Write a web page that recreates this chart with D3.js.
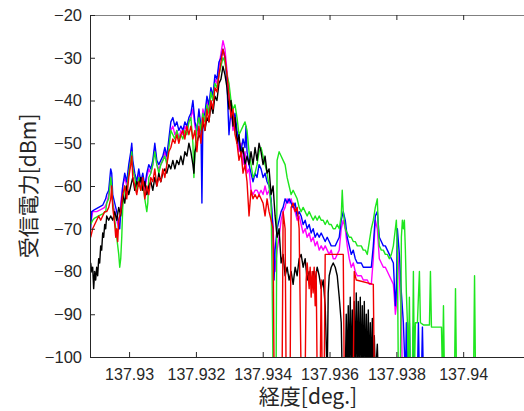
<!DOCTYPE html>
<html>
<head>
<meta charset="utf-8">
<script src="https://cdn.jsdelivr.net/npm/d3@7"></script>
<style>
  body { margin: 0; background: #fff; }
  svg { display: block; }
</style>
</head>
<body>
<svg id="chart" width="524" height="411"></svg>
<script>
// tick values and labels
const xTicks = [137.93, 137.932, 137.934, 137.936, 137.938, 137.94];
const xTickLabels = ['137.93', '137.932', '137.934', '137.936', '137.938', '137.94'];
const yTicks = [-100, -90, -80, -70, -60, -50, -40, -30, -20];

// [longitude, received power dBm]; -105 = below the axis
const black = [[137.92885,-78],[137.92888,-80],[137.92891,-79],[137.92894,-84],[137.92897,-80],[137.92900,-82],[137.92903,-79],[137.92906,-81],[137.92909,-77],[137.92912,-78],[137.92915,-74],[137.92918,-75],[137.92921,-71],[137.92924,-72],[137.92927,-69],[137.92930,-70],[137.92933,-67],[137.92939,-68],[137.92945,-67],[137.92951,-68],[137.92957,-66],[137.92963,-68],[137.92969,-65],[137.92975,-67],[137.92981,-62],[137.92987,-64],[137.92993,-60],[137.92999,-62],[137.93005,-60],[137.93011,-58],[137.93017,-61],[137.93023,-59],[137.93029,-60],[137.93035,-58],[137.93041,-61],[137.93047,-59],[137.93053,-62],[137.93059,-60],[137.93065,-59],[137.93071,-61],[137.93077,-58],[137.93083,-60],[137.93089,-57],[137.93095,-59],[137.93101,-57],[137.93107,-56],[137.93113,-57],[137.93119,-55],[137.93125,-56],[137.93131,-54],[137.93137,-56],[137.93143,-54],[137.93149,-55],[137.93155,-53],[137.93161,-55],[137.93167,-52],[137.93173,-53],[137.93179,-50],[137.93185,-52],[137.93191,-55],[137.93194,-57],[137.93197,-52],[137.93203,-50],[137.93209,-48],[137.93215,-49],[137.93221,-45],[137.93227,-47],[137.93233,-44],[137.93239,-45],[137.93245,-41],[137.93251,-43],[137.93257,-39],[137.93263,-40],[137.93269,-36],[137.93275,-35],[137.93281,-32],[137.93287,-34],[137.93293,-37],[137.93299,-42],[137.93305,-40],[137.93311,-46],[137.93317,-44],[137.93323,-50],[137.93329,-48],[137.93335,-53],[137.93341,-51],[137.93347,-55],[137.93353,-53],[137.93359,-55],[137.93365,-52],[137.93371,-55],[137.93377,-51],[137.93383,-54],[137.93389,-50],[137.93395,-52],[137.93401,-55],[137.93407,-53],[137.93413,-57],[137.93419,-56],[137.93425,-62],[137.93431,-60],[137.93437,-67],[137.93443,-72],[137.93449,-70],[137.93455,-78],[137.93461,-76],[137.93467,-81],[137.93473,-79],[137.93479,-82],[137.93485,-80],[137.93491,-83],[137.93497,-79],[137.93503,-81],[137.93509,-77],[137.93515,-76],[137.93521,-79],[137.93527,-77],[137.93533,-82],[137.93539,-80],[137.93545,-83],[137.93551,-80],[137.93557,-82],[137.93563,-79],[137.93569,-81],[137.93575,-84],[137.93581,-82],[137.93587,-88],[137.93593,-105],[137.93596,-85],[137.93599,-81],[137.93605,-79],[137.93611,-78],[137.93617,-79],[137.93623,-81],[137.93629,-86],[137.93635,-92],[137.93638,-105],[137.93647,-105],[137.93650,-90],[137.93653,-105],[137.93656,-88],[137.93659,-105],[137.93662,-86],[137.93665,-105],[137.93668,-89],[137.93671,-105],[137.93674,-87],[137.93677,-105],[137.93680,-85],[137.93683,-105],[137.93686,-87],[137.93689,-105],[137.93692,-86],[137.93695,-105],[137.93698,-88],[137.93701,-105],[137.93704,-87],[137.93707,-105],[137.93710,-90],[137.93713,-105],[137.93716,-89],[137.93719,-105],[137.93722,-92],[137.93725,-105],[137.93728,-91],[137.93731,-105],[137.93734,-95],[137.93737,-105],[137.93743,-97],[137.93746,-105]];

const red = [[137.92885,-72],[137.92891,-70],[137.92897,-69],[137.92903,-68],[137.92909,-67],[137.92915,-68],[137.92921,-67],[137.92927,-66],[137.92933,-66],[137.92939,-65],[137.92945,-63],[137.92948,-60],[137.92951,-65],[137.92957,-69],[137.92960,-72],[137.92963,-70],[137.92966,-73],[137.92969,-68],[137.92975,-66],[137.92981,-62],[137.92987,-60],[137.92993,-63],[137.92999,-58],[137.93005,-55],[137.93008,-53],[137.93011,-58],[137.93017,-60],[137.93023,-62],[137.93029,-59],[137.93035,-61],[137.93041,-58],[137.93047,-63],[137.93053,-60],[137.93059,-62],[137.93065,-58],[137.93071,-59],[137.93077,-56],[137.93083,-60],[137.93089,-58],[137.93095,-59],[137.93101,-56],[137.93107,-58],[137.93113,-55],[137.93119,-52],[137.93125,-51],[137.93131,-49],[137.93137,-50],[137.93143,-48],[137.93149,-50],[137.93155,-48],[137.93161,-47],[137.93167,-49],[137.93173,-46],[137.93179,-48],[137.93185,-46],[137.93191,-49],[137.93197,-47],[137.93203,-52],[137.93209,-46],[137.93215,-50],[137.93221,-44],[137.93227,-47],[137.93233,-42],[137.93239,-45],[137.93245,-40],[137.93251,-42],[137.93257,-37],[137.93263,-38],[137.93269,-34],[137.93275,-31],[137.93281,-28],[137.93287,-30],[137.93293,-34],[137.93299,-39],[137.93305,-44],[137.93311,-42],[137.93317,-48],[137.93323,-50],[137.93329,-54],[137.93335,-52],[137.93341,-57],[137.93347,-55],[137.93353,-59],[137.93359,-67],[137.93365,-61],[137.93371,-63],[137.93377,-62],[137.93383,-63],[137.93389,-62],[137.93395,-63],[137.93401,-64],[137.93407,-67],[137.93413,-63],[137.93419,-66],[137.93425,-68],[137.93431,-70],[137.93434,-105],[137.93458,-105],[137.93461,-66],[137.93467,-70],[137.93470,-105],[137.93482,-105],[137.93485,-65],[137.93491,-64],[137.93497,-66],[137.93503,-65],[137.93509,-70],[137.93515,-105],[137.93527,-105],[137.93530,-82],[137.93533,-78],[137.93539,-84],[137.93542,-79],[137.93545,-86],[137.93548,-80],[137.93551,-85],[137.93554,-79],[137.93557,-88],[137.93560,-80],[137.93563,-105],[137.93572,-105],[137.93575,-82],[137.93578,-105],[137.93584,-105],[137.93587,-76],[137.93641,-76],[137.93644,-105],[137.93671,-105],[137.93674,-80],[137.93680,-82],[137.93731,-83],[137.93734,-105]];

const magenta = [[137.92885,-69],[137.92891,-66],[137.92903,-66],[137.92915,-65.5],[137.92927,-65],[137.92933,-64],[137.92939,-62],[137.92945,-58],[137.92951,-64],[137.92957,-66],[137.92963,-68],[137.92969,-70],[137.92972,-68],[137.92975,-64],[137.92981,-60],[137.92987,-58],[137.92993,-60],[137.92999,-56],[137.93005,-53],[137.93008,-51],[137.93011,-56],[137.93017,-58],[137.93023,-60],[137.93029,-57],[137.93035,-60],[137.93041,-58],[137.93047,-61],[137.93053,-58],[137.93059,-56],[137.93065,-57],[137.93071,-55],[137.93077,-51],[137.93083,-55],[137.93089,-56],[137.93095,-55],[137.93101,-54],[137.93107,-52],[137.93113,-54],[137.93119,-50],[137.93125,-47],[137.93131,-46],[137.93137,-48],[137.93143,-47],[137.93149,-49],[137.93155,-47],[137.93161,-48],[137.93167,-46],[137.93173,-47],[137.93179,-45],[137.93185,-44],[137.93191,-42],[137.93197,-46],[137.93203,-48],[137.93209,-43],[137.93215,-47],[137.93221,-42],[137.93227,-44],[137.93233,-40],[137.93239,-42],[137.93245,-38],[137.93251,-40],[137.93257,-35],[137.93263,-36],[137.93269,-32],[137.93275,-29],[137.93281,-26],[137.93287,-28],[137.93293,-33],[137.93299,-38],[137.93305,-42],[137.93311,-47],[137.93317,-45],[137.93323,-48],[137.93329,-52],[137.93335,-50],[137.93341,-55],[137.93347,-52],[137.93353,-57],[137.93359,-56],[137.93365,-61],[137.93371,-62],[137.93377,-61],[137.93383,-61],[137.93389,-62],[137.93395,-61],[137.93401,-62],[137.93407,-60],[137.93413,-62],[137.93419,-61],[137.93425,-64],[137.93431,-70],[137.93437,-80],[137.93443,-75],[137.93449,-72],[137.93455,-68],[137.93461,-66],[137.93467,-65],[137.93473,-63],[137.93479,-64],[137.93485,-63],[137.93491,-65],[137.93497,-66],[137.93503,-68],[137.93509,-67],[137.93515,-69],[137.93521,-71],[137.93527,-70],[137.93533,-72],[137.93539,-71],[137.93545,-73],[137.93551,-72],[137.93557,-74],[137.93563,-73],[137.93569,-75],[137.93575,-74],[137.93581,-75],[137.93587,-74],[137.93593,-75],[137.93599,-76],[137.93605,-75],[137.93611,-77],[137.93617,-77],[137.93623,-76],[137.93629,-75],[137.93635,-70],[137.93641,-68],[137.93647,-70],[137.93653,-74],[137.93659,-77],[137.93665,-79],[137.93671,-78],[137.93677,-80],[137.93683,-81],[137.93689,-81],[137.93695,-81],[137.93701,-82],[137.93707,-82],[137.93713,-82],[137.93719,-83],[137.93725,-83],[137.93731,-77],[137.93737,-68],[137.93743,-70],[137.93749,-77],[137.93755,-78],[137.93761,-79],[137.93767,-79],[137.93773,-80],[137.93779,-81],[137.93785,-82],[137.93791,-83],[137.93794,-86],[137.93797,-90],[137.93800,-88],[137.93803,-74],[137.93809,-82],[137.93815,-90],[137.93818,-105]];

const blue = [[137.92885,-70],[137.92888,-66],[137.92897,-65.5],[137.92909,-65],[137.92921,-64.5],[137.92930,-63],[137.92933,-62],[137.92939,-61],[137.92945,-56],[137.92948,-57],[137.92951,-62],[137.92957,-64],[137.92963,-66],[137.92969,-69],[137.92972,-70],[137.92975,-66],[137.92981,-60],[137.92987,-57],[137.92993,-59],[137.92999,-55],[137.93005,-52],[137.93008,-50],[137.93011,-54],[137.93017,-57],[137.93023,-59],[137.93029,-56],[137.93035,-59],[137.93041,-57],[137.93047,-60],[137.93053,-57],[137.93059,-55],[137.93065,-56],[137.93071,-54],[137.93077,-50],[137.93083,-54],[137.93089,-55],[137.93095,-54],[137.93101,-53],[137.93107,-51],[137.93113,-53],[137.93119,-49],[137.93125,-45],[137.93131,-44],[137.93137,-46],[137.93143,-45],[137.93149,-47],[137.93155,-46],[137.93161,-47],[137.93167,-45],[137.93173,-46],[137.93179,-44],[137.93185,-43],[137.93191,-40],[137.93197,-45],[137.93203,-47],[137.93209,-42],[137.93215,-46],[137.93218,-64],[137.93221,-44],[137.93227,-43],[137.93233,-39],[137.93239,-41],[137.93245,-37],[137.93251,-39],[137.93257,-34],[137.93263,-35],[137.93269,-31],[137.93275,-30],[137.93281,-28],[137.93287,-30],[137.93293,-36],[137.93299,-48],[137.93305,-42],[137.93311,-45],[137.93317,-43],[137.93323,-47],[137.93329,-50],[137.93335,-52],[137.93341,-49],[137.93347,-51],[137.93350,-46],[137.93353,-52],[137.93359,-55],[137.93365,-57],[137.93371,-59],[137.93377,-57],[137.93383,-58],[137.93389,-55],[137.93395,-56],[137.93401,-58],[137.93407,-57],[137.93413,-59],[137.93419,-60],[137.93425,-63],[137.93431,-70],[137.93434,-82],[137.93437,-75],[137.93443,-70],[137.93449,-68],[137.93455,-66],[137.93461,-65],[137.93467,-63],[137.93473,-64],[137.93479,-63],[137.93485,-64],[137.93491,-65],[137.93497,-64],[137.93503,-67],[137.93509,-66],[137.93515,-67],[137.93521,-69],[137.93527,-68],[137.93533,-70],[137.93539,-69],[137.93545,-71],[137.93551,-70],[137.93557,-72],[137.93563,-71],[137.93569,-72],[137.93575,-71],[137.93581,-72],[137.93587,-73],[137.93593,-72],[137.93599,-73],[137.93605,-74],[137.93611,-74],[137.93617,-74],[137.93623,-73],[137.93629,-72],[137.93635,-68],[137.93641,-66],[137.93647,-68],[137.93653,-72],[137.93659,-74],[137.93665,-76],[137.93671,-75],[137.93677,-77],[137.93683,-78],[137.93689,-78],[137.93695,-78],[137.93701,-79],[137.93707,-79],[137.93713,-79],[137.93719,-79],[137.93725,-79],[137.93731,-74],[137.93737,-67],[137.93743,-66],[137.93749,-72],[137.93755,-73],[137.93761,-74],[137.93767,-74],[137.93773,-75],[137.93779,-76],[137.93785,-77],[137.93791,-78],[137.93794,-83],[137.93797,-88],[137.93800,-84],[137.93803,-70],[137.93809,-76],[137.93815,-85],[137.93821,-92],[137.93827,-105],[137.93830,-92],[137.93833,-105],[137.93839,-92],[137.93842,-105],[137.93848,-105],[137.93851,-93],[137.93854,-105],[137.93863,-105],[137.93866,-92],[137.93869,-105],[137.93875,-105],[137.93878,-93],[137.93881,-105]];

const green = [[137.92885,-69],[137.92891,-68],[137.92897,-67.5],[137.92909,-67],[137.92921,-66.5],[137.92930,-66],[137.92933,-64],[137.92939,-63],[137.92945,-58],[137.92948,-60],[137.92951,-64],[137.92957,-68],[137.92963,-72],[137.92969,-76],[137.92972,-79],[137.92975,-77],[137.92978,-72],[137.92981,-65],[137.92987,-60],[137.92993,-61],[137.92999,-57],[137.93005,-54],[137.93008,-52],[137.93011,-56],[137.93017,-58],[137.93023,-61],[137.93029,-58],[137.93035,-61],[137.93041,-59],[137.93047,-63],[137.93053,-66],[137.93056,-64],[137.93059,-58],[137.93065,-57],[137.93071,-55],[137.93077,-52],[137.93083,-55],[137.93089,-57],[137.93095,-55],[137.93101,-54],[137.93107,-53],[137.93113,-55],[137.93119,-51],[137.93125,-47],[137.93131,-48],[137.93137,-49],[137.93143,-47],[137.93149,-49],[137.93155,-48],[137.93161,-49],[137.93167,-47],[137.93173,-48],[137.93179,-45],[137.93185,-44],[137.93191,-50],[137.93194,-58],[137.93197,-52],[137.93203,-46],[137.93209,-44],[137.93215,-47],[137.93221,-43],[137.93227,-45],[137.93233,-41],[137.93239,-43],[137.93245,-38],[137.93251,-40],[137.93257,-36],[137.93263,-37],[137.93269,-34],[137.93275,-32],[137.93281,-30],[137.93287,-31],[137.93293,-34],[137.93299,-36],[137.93305,-40],[137.93311,-42],[137.93317,-41],[137.93323,-44],[137.93329,-48],[137.93335,-47],[137.93341,-46],[137.93347,-45],[137.93353,-47],[137.93359,-52],[137.93365,-55],[137.93371,-58],[137.93377,-57],[137.93383,-55],[137.93389,-52],[137.93395,-51],[137.93401,-53],[137.93407,-55],[137.93413,-57],[137.93419,-60],[137.93425,-64],[137.93428,-80],[137.93431,-105],[137.93440,-105],[137.93443,-54],[137.93449,-52],[137.93455,-53],[137.93461,-54],[137.93467,-55],[137.93473,-58],[137.93479,-60],[137.93485,-62],[137.93491,-61],[137.93497,-62],[137.93503,-63],[137.93509,-65],[137.93515,-66],[137.93521,-65],[137.93527,-66],[137.93533,-67],[137.93539,-66],[137.93545,-67],[137.93551,-68],[137.93557,-67],[137.93563,-68],[137.93569,-67],[137.93575,-68],[137.93581,-68],[137.93587,-69],[137.93593,-68],[137.93599,-69],[137.93605,-69],[137.93611,-70],[137.93617,-70],[137.93623,-69],[137.93629,-70],[137.93635,-67],[137.93638,-61],[137.93641,-66],[137.93647,-70],[137.93653,-71],[137.93659,-72],[137.93665,-72],[137.93671,-73],[137.93677,-73],[137.93683,-74],[137.93689,-74],[137.93695,-74],[137.93701,-75],[137.93707,-75],[137.93713,-76],[137.93719,-73],[137.93725,-70],[137.93731,-68],[137.93737,-65],[137.93743,-63],[137.93746,-70],[137.93749,-74],[137.93755,-75],[137.93761,-75],[137.93767,-76],[137.93773,-76],[137.93779,-77],[137.93785,-76],[137.93791,-74],[137.93797,-70],[137.93800,-68],[137.93803,-75],[137.93806,-105],[137.93812,-105],[137.93815,-72],[137.93818,-68],[137.93821,-70],[137.93824,-68],[137.93827,-75],[137.93830,-85],[137.93833,-92],[137.93836,-105],[137.93839,-86],[137.93842,-105],[137.93848,-105],[137.93851,-80],[137.93854,-105],[137.93857,-92],[137.93863,-92],[137.93869,-80],[137.93872,-92],[137.93881,-92.5],[137.93899,-92.5],[137.93902,-80],[137.93905,-93],[137.93935,-93],[137.93938,-105],[137.93941,-88],[137.93944,-105],[137.93974,-105],[137.93977,-84],[137.93980,-105],[137.94031,-105],[137.94034,-81],[137.94037,-105]];

const series = [
  { data: magenta, color: '#ff00ff' },
  { data: blue, color: '#0000ff' },
  { data: green, color: '#1ee61e' },
  { data: black, color: '#000000' },
  { data: red, color: '#f00000' }
];

const svg = d3.select('#chart');
const plotLeft = 90, plotRight = 530, plotTop = 15, plotBottom = 357;

const x = d3.scaleLinear()
  .domain([137.92883, 137.942])
  .range([plotLeft, plotRight]);

const y = d3.scaleLinear()
  .domain([-100, -20])
  .range([plotBottom, plotTop]);

const AXIS_COLOR = '#262626';
const TICK_FONT = '"Liberation Sans", Arial, sans-serif';

svg.append('clipPath')
  .attr('id', 'plot-clip')
  .append('rect')
  .attr('x', plotLeft)
  .attr('y', plotTop)
  .attr('width', plotRight - plotLeft)
  .attr('height', plotBottom - plotTop);

// Data lines
const line = d3.line()
  .x(d => x(d[0]))
  .y(d => y(d[1]));

const lines = svg.append('g').attr('clip-path', 'url(#plot-clip)');
series.forEach(s => {
  lines.append('path')
    .datum(s.data)
    .attr('fill', 'none')
    .attr('stroke', s.color)
    .attr('stroke-width', 1.4)
    .attr('stroke-linejoin', 'round')
    .attr('d', line);
});

// Axes (MATLAB style: inward ticks)
const xAxis = svg.append('g')
  .attr('transform', `translate(0,${plotBottom})`)
  .call(d3.axisBottom(x)
    .tickValues(xTicks)
    .tickFormat((d, i) => xTickLabels[i])
    .tickSizeInner(-5)
    .tickSizeOuter(0)
    .tickPadding(12));

const xTop = svg.append('g')
  .attr('transform', `translate(0,${plotTop})`)
  .call(d3.axisTop(x)
    .tickValues(xTicks)
    .tickFormat('')
    .tickSizeInner(-5)
    .tickSizeOuter(0));

const yAxis = svg.append('g')
  .attr('transform', `translate(${plotLeft},0)`)
  .call(d3.axisLeft(y)
    .tickValues(yTicks)
    .tickSizeInner(-5)
    .tickSizeOuter(0)
    .tickPadding(8));

[xAxis, xTop, yAxis].forEach(g => {
  g.select('.domain').attr('stroke', AXIS_COLOR).attr('stroke-width', 1);
  g.selectAll('.tick line').attr('stroke', AXIS_COLOR);
  g.selectAll('.tick text')
    .attr('fill', AXIS_COLOR)
    .style('font-family', TICK_FONT)
    .style('font-size', '16.5px');
});
xAxis.selectAll('.tick text').style('font-size', '16px');
xTop.select('.domain').attr('stroke', '#808080');

// Axis titles
svg.append('text')
  .attr('x', 308)
  .attr('y', 404)
  .attr('text-anchor', 'middle')
  .style('font-family', '"Noto Sans CJK JP", sans-serif')
  .style('font-size', '21px')
  .attr('fill', AXIS_COLOR)
  .text('経度[deg.]');

svg.append('text')
  .attr('transform', 'translate(36,186) rotate(-90)')
  .attr('text-anchor', 'middle')
  .style('font-family', '"Noto Sans CJK JP", sans-serif')
  .style('font-size', '21px')
  .attr('fill', AXIS_COLOR)
  .text('受信電力[dBm]');
</script>
</body>
</html>
